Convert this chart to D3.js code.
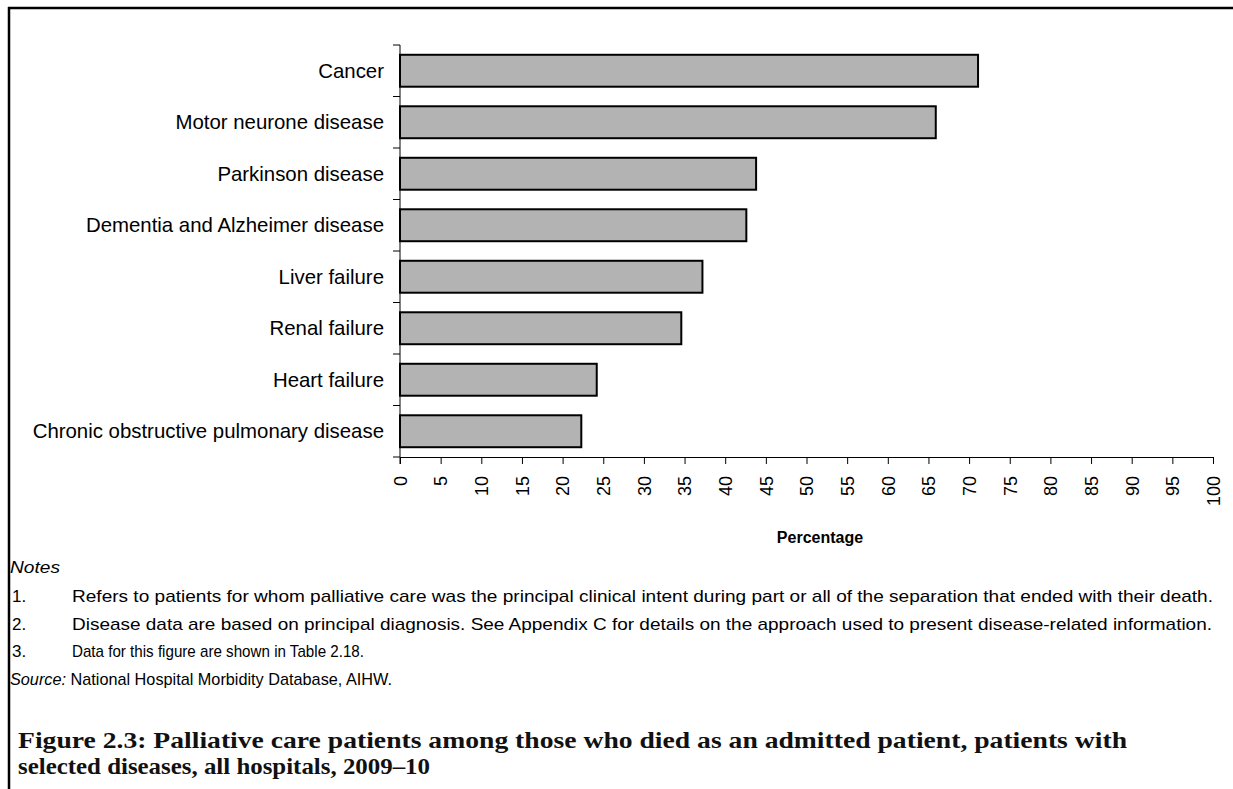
<!DOCTYPE html>
<html>
<head>
<meta charset="utf-8">
<script src="https://cdn.jsdelivr.net/npm/d3@7/dist/d3.min.js"></script>
<style>
  body { margin: 0; background: #fff; }
  svg { display: block; }
</style>
</head>
<body>
<div id="chart"></div>
<script>
// data
var categories = ['Cancer', 'Motor neurone disease', 'Parkinson disease', 'Dementia and Alzheimer disease',
  'Liver failure', 'Renal failure', 'Heart failure', 'Chronic obstructive pulmonary disease'];
var values = [71.1, 65.9, 43.8, 42.6, 37.2, 34.6, 24.2, 22.3];
var xTicks = [0, 5, 10, 15, 20, 25, 30, 35, 40, 45, 50, 55, 60, 65, 70, 75, 80, 85, 90, 95, 100];
var notes = [
  'Refers to patients for whom palliative care was the principal clinical intent during part or all of the separation that ended with their death.',
  'Disease data are based on principal diagnosis. See Appendix C for details on the approach used to present disease-related information.',
  'Data for this figure are shown in Table 2.18.'
];
var titleLines = [
  'Figure 2.3: Palliative care patients among those who died as an admitted patient, patients with',
  'selected diseases, all hospitals, 2009\u201310'
];

var W = 1233, H = 789;
var svg, x, y;
var sans = 'Liberation Sans, Arial, sans-serif';

svg = d3.select('#chart').append('svg')
  .attr('width', W)
  .attr('height', H);

// frame (top and left rules)
svg.append('line').attr('x1', 8).attr('x2', W).attr('y1', 8).attr('y2', 8)
  .attr('stroke', '#000').attr('stroke-width', 2.5);
svg.append('line').attr('x1', 9).attr('x2', 9).attr('y1', 7).attr('y2', H)
  .attr('stroke', '#000').attr('stroke-width', 2.5);

// scales
x = d3.scaleLinear().domain([0, 100]).range([400, 1213]);
y = d3.scaleBand().domain(categories).range([45, 457]).paddingInner(0.38).paddingOuter(0.19);

// bars
svg.selectAll('rect.bar')
  .data(values)
  .enter()
  .append('rect')
  .attr('class', 'bar')
  .attr('x', x(0))
  .attr('y', function (d, i) { return y(categories[i]); })
  .attr('width', function (d) { return x(d) - x(0); })
  .attr('height', y.bandwidth())
  .attr('fill', '#b3b3b3')
  .attr('stroke', '#000')
  .attr('stroke-width', 2);

// y axis: line + ticks at band boundaries
var gap = (y.step() - y.bandwidth()) / 2;
var bounds = categories.map(function (c) { return y(c) - gap; });
bounds.push(y(categories[categories.length - 1]) + y.bandwidth() + gap);
svg.append('line')
  .attr('x1', x(0)).attr('x2', x(0))
  .attr('y1', bounds[0]).attr('y2', bounds[bounds.length - 1] + 7)
  .attr('stroke', '#000').attr('stroke-width', 1);
svg.selectAll('line.ytick')
  .data(bounds)
  .enter()
  .append('line')
  .attr('class', 'ytick')
  .attr('x1', x(0) - 7).attr('x2', x(0))
  .attr('y1', function (d) { return d; })
  .attr('y2', function (d) { return d; })
  .attr('stroke', '#000').attr('stroke-width', 1);

svg.selectAll('text.cat')
  .data(categories)
  .enter()
  .append('text')
  .attr('class', 'cat')
  .attr('x', 384)
  .attr('y', function (d) { return y(d) + y.bandwidth() / 2; })
  .attr('dy', '0.35em')
  .attr('text-anchor', 'end')
  .attr('font-family', sans)
  .attr('font-size', 20.4)
  .attr('fill', '#000')
  .text(function (d) { return d; });

// x axis
var xAxis = svg.append('g')
  .attr('transform', 'translate(0,' + bounds[bounds.length - 1] + ')')
  .call(d3.axisBottom(x).tickValues(xTicks).tickSize(7).tickSizeOuter(0));
xAxis.select('.domain').attr('stroke', '#000');
xAxis.selectAll('.tick line').attr('stroke', '#000');
xAxis.selectAll('.tick text')
  .attr('transform', 'rotate(-90)')
  .attr('text-anchor', 'end')
  .attr('x', -19)
  .attr('y', 0)
  .attr('dy', '0.35em')
  .attr('font-family', sans)
  .attr('font-size', 18)
  .attr('fill', '#000');

svg.append('text')
  .attr('x', 820)
  .attr('y', 543)
  .attr('text-anchor', 'middle')
  .attr('font-family', sans)
  .attr('font-weight', 'bold')
  .attr('font-size', 16)
  .text('Percentage');

// notes (condensed to the widths seen in the figure)
svg.append('text')
  .attr('x', 10).attr('y', 573)
  .attr('font-family', sans).attr('font-style', 'italic').attr('font-size', 17)
  .attr('textLength', 50).attr('lengthAdjust', 'spacingAndGlyphs')
  .text('Notes');

var noteEnds = [1213, 1212, 364];
notes.forEach(function (n, i) {
  var yy = 602 + i * 27.5;
  svg.append('text')
    .attr('x', 12).attr('y', yy)
    .attr('font-family', sans).attr('font-size', 17)
    .text((i + 1) + '.');
  svg.append('text')
    .attr('x', 72).attr('y', yy)
    .attr('font-family', sans).attr('font-size', 17)
    .attr('textLength', noteEnds[i] - 72)
    .attr('lengthAdjust', 'spacingAndGlyphs')
    .text(n);
});

var src = svg.append('text')
  .attr('x', 10).attr('y', 685)
  .attr('font-family', sans).attr('font-size', 17)
  .attr('textLength', 382)
  .attr('lengthAdjust', 'spacingAndGlyphs');
src.append('tspan').attr('font-style', 'italic').text('Source:');
src.append('tspan').text(' National Hospital Morbidity Database, AIHW.');

// title
var titleEnds = [1127, 430];
titleLines.forEach(function (t, i) {
  svg.append('text')
    .attr('x', 18).attr('y', 748 + i * 26)
    .attr('font-family', 'Liberation Serif, Times New Roman, serif')
    .attr('font-weight', 'bold')
    .attr('font-size', 24)
    .attr('fill', '#111')
    .attr('textLength', titleEnds[i] - 18)
    .attr('lengthAdjust', 'spacingAndGlyphs')
    .text(t);
});
</script>
</body>
</html>
